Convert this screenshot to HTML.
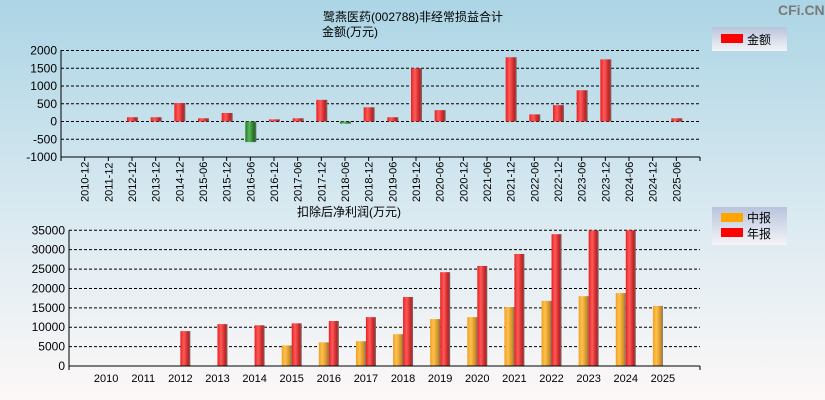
<!DOCTYPE html>
<html><head><meta charset="utf-8"><style>
body{margin:0;width:825px;height:400px;overflow:hidden;font-family:"Liberation Sans","Noto Sans CJK SC",sans-serif;}
svg{display:block}
</style></head><body>
<svg id="c" width="825" height="400" xmlns="http://www.w3.org/2000/svg">
<defs>
<linearGradient id="bg" x1="0" y1="0" x2="0" y2="1"><stop offset="0" stop-color="#acd5e5"/><stop offset="0.55" stop-color="#dbeaf1"/><stop offset="1" stop-color="#fdf8f8"/></linearGradient>
<linearGradient id="red" x1="0" x2="1"><stop offset="0" stop-color="#e82020"/><stop offset="0.35" stop-color="#ff5a5a"/><stop offset="0.8" stop-color="#c02020"/><stop offset="1" stop-color="#707070"/></linearGradient>
<linearGradient id="grn" x1="0" x2="1"><stop offset="0" stop-color="#1f7a1f"/><stop offset="0.35" stop-color="#5cb85c"/><stop offset="0.8" stop-color="#1f6a1f"/><stop offset="1" stop-color="#707070"/></linearGradient>
<linearGradient id="org" x1="0" x2="1"><stop offset="0" stop-color="#f0a020"/><stop offset="0.35" stop-color="#ffc050"/><stop offset="0.8" stop-color="#d09020"/><stop offset="1" stop-color="#707070"/></linearGradient>
<linearGradient id="lg" x1="0" y1="0" x2="0" y2="1"><stop offset="0" stop-color="#b8c4dc"/><stop offset="1" stop-color="#f4f4f8"/></linearGradient>
</defs>
<rect width="825" height="400" fill="url(#bg)"/>
<text x="778" y="15" font-size="14" font-weight="bold" fill="#7a7a7a">CFi.CN</text>
<text x="323" y="21" font-size="12">鹭燕医药(002788)非经常损益合计</text>
<text x="322" y="36" font-size="12">金额(万元)</text>
<text x="297" y="216" font-size="12">扣除后净利润(万元)</text>
<g><rect x="712" y="27" width="75" height="24" fill="url(#lg)"/><rect x="721" y="34" width="22" height="9" fill="#f00"/><text x="747" y="44" font-size="12">金额</text></g>
<g><rect x="712" y="207" width="75" height="38" fill="url(#lg)"/><rect x="721" y="213" width="22" height="9" fill="#ffa500"/><text x="747" y="222" font-size="12">中报</text><rect x="721" y="228" width="22" height="9" fill="#f00"/><text x="747" y="238" font-size="12">年报</text></g>
<g id="top"></g><g id="bot"></g>
</svg>
<script>
const topCats=["2010-12","2011-12","2012-12","2013-12","2014-12","2015-06","2015-12","2016-06","2016-12","2017-06","2017-12","2018-06","2018-12","2019-06","2019-12","2020-06","2020-12","2021-06","2021-12","2022-06","2022-12","2023-06","2023-12","2024-06","2024-12","2025-06"];
const topVals=[0,0,120,120,520,90,240,-580,60,90,610,-60,400,120,1500,320,0,0,1810,200,460,880,1750,0,0,90];
const topTicks=[2000,1500,1000,500,0,-500,-1000];
const botCats=["2010","2011","2012","2013","2014","2015","2016","2017","2018","2019","2020","2021","2022","2023","2024","2025"];
const midVals=[0,0,0,0,0,5300,6100,6400,8200,12100,12600,15200,16800,18000,18800,15500];
const annVals=[0,0,9000,10800,10500,11000,11600,12600,17800,24200,25800,28900,34000,35000,35000,0];
const botTicks=[35000,30000,25000,20000,15000,10000,5000,0];
const NS="http://www.w3.org/2000/svg";
function mk(p,t,a){const e=document.createElementNS(NS,t);for(const k in a)e.setAttribute(k,a[k]);p.appendChild(e);return e;}
const T=document.getElementById('top');
const tx0=61,tx1=700,tw=(tx1-tx0)/27;
const ty=v=>121.5-v*0.0355;
const tX=i=>tx0+(i+1)*tw;
topTicks.forEach(v=>{
 const l=mk(T,'line',{x1:tx0,x2:tx1,y1:ty(v),y2:ty(v),stroke:'#000','stroke-dasharray':'3,2','stroke-width':1});
 
 
 const t=mk(T,'text',{x:tx0-4,y:ty(v)+4,'text-anchor':'end','font-size':12});t.textContent=v;
 
 
});
mk(T,'line',{x1:tx0,x2:tx0,y1:50,y2:157,stroke:'#000'});
mk(T,'line',{x1:tx0,x2:tx1,y1:157,y2:157,stroke:'#000'});
topCats.forEach((c,i)=>{
 const x=tX(i),v=topVals[i];
 mk(T,'line',{x1:x,x2:x,y1:157,y2:161,stroke:'#000'});
 const t=mk(T,'text',{x:0,y:0,'font-size':11,transform:`translate(${x+4},202) rotate(-90)`});t.textContent=c;
 
 
 if(v!==0){const y0=ty(0),y1=ty(v);
  const b=mk(T,'rect',{x:x-5,y:Math.min(y0,y1),width:11,height:Math.max(1,Math.abs(y1-y0)),fill:v>0?'url(#red)':'url(#grn)'});
  
  }
});
mk(T,'line',{x1:tx0,x2:tx0,y1:157,y2:161,stroke:'#000'});mk(T,'line',{x1:tx1,x2:tx1,y1:157,y2:161,stroke:'#000'});
const B=document.getElementById('bot');
const bx0=69,bx1=700,bw=(bx1-bx0)/17;
const by=v=>366-v*(135.7/35000);
const bX=i=>bx0+(i+1)*bw;
botTicks.forEach(v=>{
 if(v>0){const l=mk(B,'line',{x1:bx0,x2:bx1,y1:by(v),y2:by(v),stroke:'#000','stroke-dasharray':'3,2'});
 
 }
 const t=mk(B,'text',{x:bx0-4,y:by(v)+4,'text-anchor':'end','font-size':12});t.textContent=v;
 
 
});
botCats.forEach((c,i)=>{
 const x=bX(i);
 const t=mk(B,'text',{x:x,y:382,'text-anchor':'middle','font-size':11});t.textContent=c;
 
 
 if(midVals[i]>0){const b=mk(B,'rect',{x:x-10,y:by(midVals[i]),width:10,height:by(0)-by(midVals[i]),fill:'url(#org)'});
  
  }
 if(annVals[i]>0){const b=mk(B,'rect',{x:x,y:by(annVals[i]),width:10,height:by(0)-by(annVals[i]),fill:'url(#red)'});
  
  }
});
mk(B,'line',{x1:bx0,x2:bx0,y1:by(35000),y2:370,stroke:'#000'});
mk(B,'line',{x1:bx0,x2:bx1,y1:366,y2:366,stroke:'#000'});
mk(B,'line',{x1:bx1,x2:bx1,y1:366,y2:370,stroke:'#000'});
</script>
</body></html>
